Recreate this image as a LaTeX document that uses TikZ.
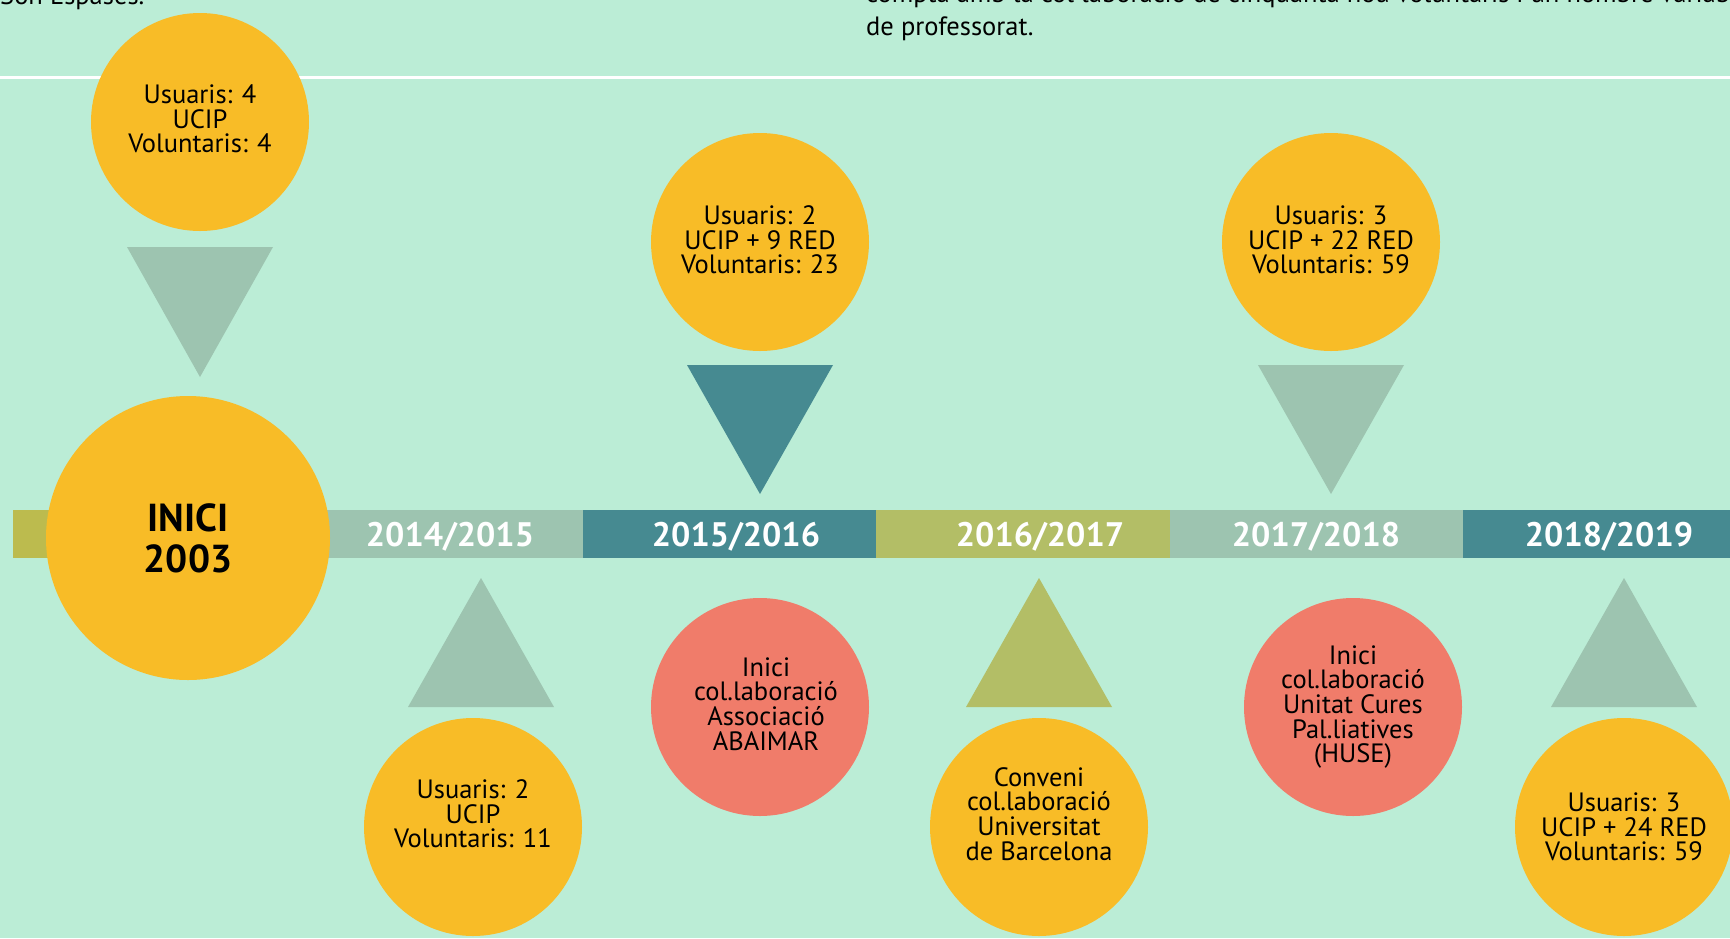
\documentclass[tikz,border=0pt]{standalone}
\usepackage{fontspec}
\setmainfont{PT Sans}

\definecolor{mint}{RGB}{187,237,214}
\definecolor{gold}{RGB}{248,188,39}
\definecolor{coral}{RGB}{240,124,106}
\definecolor{sage}{RGB}{157,196,176}
\definecolor{teal}{RGB}{70,138,145}
\definecolor{olive}{RGB}{179,190,102}
\definecolor{olivedark}{RGB}{188,187,78}

\begin{document}
\begin{tikzpicture}[x=1pt, y=-1pt, inner sep=0pt,
  bubble/.style={circle, fill=gold, minimum size=218pt},
  milestone/.style={bubble, fill=coral},
  bubtext/.style={align=center, font=\fontsize{26.5}{24.6}\selectfont},
  yearlbl/.style={text=white, font=\bfseries\fontsize{34}{34}\selectfont},
  note/.style={anchor=base west, font=\fontsize{26.5}{30}\selectfont}]

\fill[mint] (0,0) rectangle (1730,938);
\useasboundingbox (0,0) rectangle (1730,938);

% text running off the top
\node[note] (son) at (0,4) {Son Espases.};
\node[note] (compta) at (866,2) {compta amb la col·laboració de cinquanta nou voluntaris i un nombre variable};
\node[note] (prof) at (866,35) {de professorat.};
\draw[white, line width=3pt] (0,77) -- (1730,77);

% the bar
\foreach \xa/\xb/\c in {13/289/olivedark,289/583/sage,583/876/teal,876/1170/olive,1170/1463/sage,1463/1730/teal}
{
\fill[\c] (\xa,510) rectangle (\xb,558);
}
\foreach \x/\t [count=\i] in {450/{2014/2015},736/{2015/2016},1040/{2016/2017},1316/{2017/2018},1609/{2018/2019}}
{
\node[yearlbl] (y\i) at (\x,537) {\t};
}

% arrows down onto the bar
\fill[sage] (127,247) -- (273,247) -- (200,377) -- cycle;
\foreach \x/\c in {760/teal,1331/sage}
{
\fill[\c] (\x-73,365) -- (\x+73,365) -- (\x,494) -- cycle;
}
% arrows up from below
\foreach \x/\c in {481/sage,1039/olive,1624/sage}
{
\fill[\c] (\x-73,707) -- (\x+73,707) -- (\x,578) -- cycle;
}

\node[bubble, minimum size=284pt, align=center, font=\bfseries\fontsize{39}{41}\selectfont] (inici) at (188,538) {INICI\\2003};

\node[bubble] (u03) at (200,122) {};
\node[bubble] (u16) at (760,242) {};
\node[bubble] (u18) at (1331,242) {};
\node[bubble] (u15) at (473,827) {};
\node[bubble] (ub) at (1039,827) {};
\node[bubble] (u19) at (1624,827) {};
\node[milestone] (abaimar) at (760,707) {};
\node[milestone] (huse) at (1353,707) {};

\node[bubtext] (u03t) at ([yshift=3pt]u03) {Usuaris: 4\\UCIP\\Voluntaris: 4};
\node[bubtext] (u16t) at ([yshift=2pt]u16) {Usuaris: 2\\UCIP + 9 RED\\Voluntaris: 23};
\node[bubtext] (u18t) at ([yshift=2pt]u18) {Usuaris: 3\\UCIP + 22 RED\\Voluntaris: 59};
\node[bubtext] (u15t) at ([yshift=13pt]u15) {Usuaris: 2\\UCIP\\Voluntaris: 11};
\node[bubtext] (ubt) at ([yshift=13pt]ub) {Conveni\\col.laboració\\Universitat\\de Barcelona};
\node[bubtext] (u19t) at (u19) {Usuaris: 3\\UCIP + 24 RED\\Voluntaris: 59};
\node[bubtext] (abaimart) at ([xshift=6pt, yshift=3pt]abaimar) {Inici\\col.laboració\\Associació\\ABAIMAR};
\node[bubtext] (huset) at (huse) {Inici\\col.laboració\\Unitat Cures\\Pal.liatives\\(HUSE)};
\end{tikzpicture}
\end{document}
